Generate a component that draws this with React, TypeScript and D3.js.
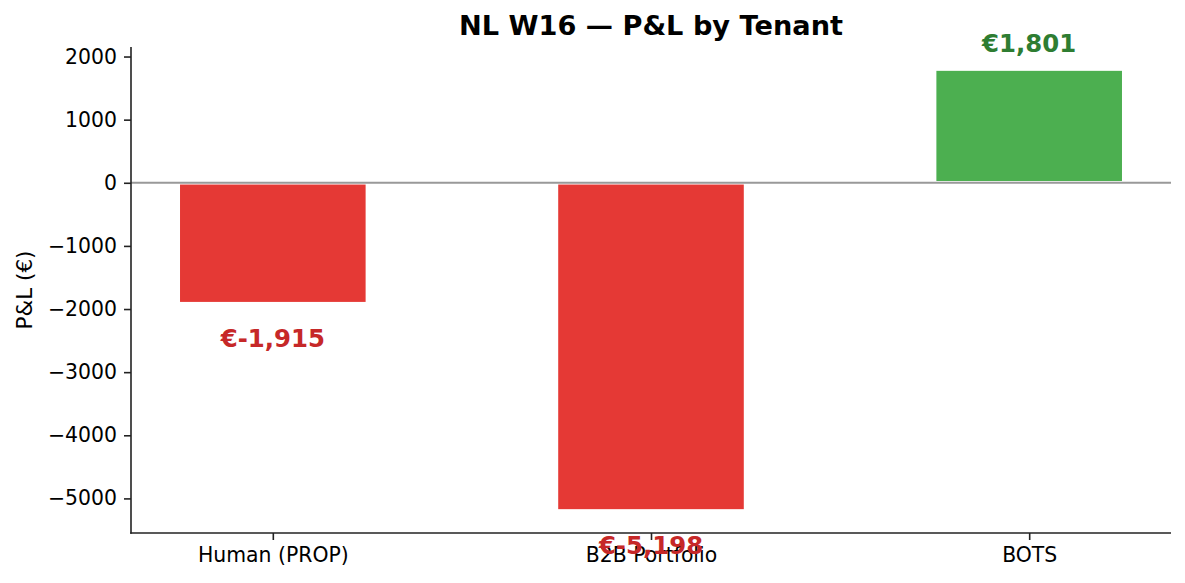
import React, { useEffect, useRef } from 'react';
import * as d3 from 'd3';

const tenants = ['Human (PROP)', 'B2B Portfolio', 'BOTS'];
const pnl = [-1915, -5198, 1801];
const yTicks = [-5000, -4000, -3000, -2000, -1000, 0, 1000, 2000];
const title = 'NL W16 — P&L by Tenant';
const yLabel = 'P&L (€)';

const W = 1185;
const H = 583;
const FONT = '"DejaVu Sans", sans-serif';

export default function App() {
  const svgRef = useRef<SVGSVGElement>(null);

  useEffect(() => {
    if (!svgRef.current) return;
    const svg = d3.select(svgRef.current);
    svg.selectAll('*').remove();

    const left = 131, right = 1171, top = 47, bottom = 533;
    const barW = 0.5;

    // matplotlib-like autoscale with 5% margins
    const lo = Math.min(0, d3.min(pnl)!);
    const hi = Math.max(0, d3.max(pnl)!);
    const pad = (hi - lo) * 0.05;
    const y = d3.scaleLinear().domain([lo - pad, hi + pad]).range([bottom, top]);
    const xPad = (tenants.length - 1 + barW) * 0.05;
    const x = d3.scaleLinear()
      .domain([-barW / 2 - xPad, tenants.length - 1 + barW / 2 + xPad])
      .range([left, right]);

    // bars
    svg.append('g')
      .selectAll('rect')
      .data(pnl)
      .enter().append('rect')
      .attr('x', (_, i) => x(i - barW / 2))
      .attr('width', x(barW) - x(0))
      .attr('y', d => y(Math.max(0, d)))
      .attr('height', d => Math.abs(y(d) - y(0)))
      .attr('fill', d => (d >= 0 ? '#4caf50' : '#e53935'))
      .attr('stroke', '#fff')
      .attr('stroke-width', 3.5);

    // zero line
    svg.append('line')
      .attr('x1', left).attr('x2', right)
      .attr('y1', y(0)).attr('y2', y(0))
      .attr('stroke', '#999').attr('stroke-width', 2);

    // y axis
    const yAxis = svg.append('g')
      .attr('transform', `translate(${left},0)`)
      .call(d3.axisLeft(y).tickValues(yTicks).tickSize(7).tickPadding(7).tickFormat(d3.format('d')));
    yAxis.select('.domain').remove();
    yAxis.selectAll('line').attr('stroke', '#222').attr('stroke-width', 1.6);
    yAxis.selectAll('text')
      .attr('fill', '#000')
      .style('font-family', FONT)
      .style('font-size', '20.4px');

    // x axis
    const xAxis = svg.append('g')
      .attr('transform', `translate(0,${bottom})`)
      .call(d3.axisBottom(x).tickValues(d3.range(tenants.length)).tickSize(7).tickPadding(8)
        .tickFormat(i => tenants[+i]));
    xAxis.select('.domain').remove();
    xAxis.selectAll('line').attr('stroke', '#222').attr('stroke-width', 1.6);
    xAxis.selectAll('text')
      .attr('fill', '#000')
      .style('font-family', FONT)
      .style('font-size', '20.4px');

    // spines
    svg.append('line').attr('x1', left).attr('x2', left).attr('y1', top).attr('y2', bottom + 0.8)
      .attr('stroke', '#222').attr('stroke-width', 1.6);
    svg.append('line').attr('x1', left - 0.8).attr('x2', right).attr('y1', bottom).attr('y2', bottom)
      .attr('stroke', '#222').attr('stroke-width', 1.6);

    // value labels
    const fmt = d3.format(',');
    svg.append('g')
      .selectAll('text')
      .data(pnl)
      .enter().append('text')
      .attr('x', (_, i) => x(i))
      .attr('y', d => (d >= 0 ? y(d + 271) : y(d - 683)))
      .attr('text-anchor', 'middle')
      .attr('fill', d => (d >= 0 ? '#2e7d32' : '#c62828'))
      .style('font-family', FONT)
      .style('font-weight', 'bold')
      .style('font-size', '24.4px')
      .text(d => (d < 0 ? `€-${fmt(-d)}` : `€${fmt(d)}`));

    // title
    svg.append('text')
      .attr('x', (left + right) / 2)
      .attr('y', 35)
      .attr('text-anchor', 'middle')
      .attr('fill', '#000')
      .style('font-family', FONT)
      .style('font-weight', 'bold')
      .style('font-size', '27.2px')
      .text(title);

    // y label
    svg.append('text')
      .attr('transform', `translate(32,${(top + bottom) / 2}) rotate(-90)`)
      .attr('text-anchor', 'middle')
      .attr('fill', '#000')
      .style('font-family', FONT)
      .style('font-size', '21.5px')
      .text(yLabel);
  }, []);

  return (
    <svg
      ref={svgRef}
      width={W}
      height={H}
      style={{ position: 'absolute', left: 0, top: 0, background: '#fff' }}
    />
  );
}
